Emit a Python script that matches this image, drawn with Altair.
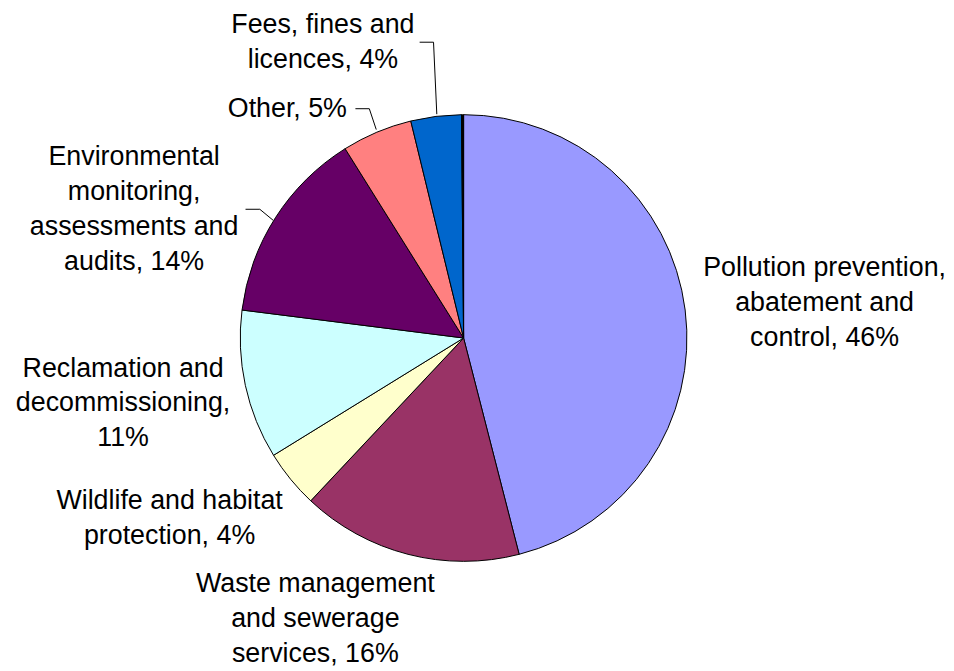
import altair as alt
import pandas as pd

# ---- data ----
categories = [
    "Pollution prevention, abatement and control",
    "Waste management and sewerage services",
    "Wildlife and habitat protection",
    "Reclamation and decommissioning",
    "Environmental monitoring, assessments and audits",
    "Other",
    "Fees, fines and licences",
    "Unlabelled",
]
values = [46.0, 16.0, 4.2, 10.8, 14.1, 5.1, 3.65, 0.15]
labels = [
    "Pollution prevention,\nabatement and\ncontrol, 46%",
    "Waste management\nand sewerage\nservices, 16%",
    "Wildlife and habitat\nprotection, 4%",
    "Reclamation and\ndecommissioning,\n11%",
    "Environmental\nmonitoring,\nassessments and\naudits, 14%",
    "Other, 5%",
    "Fees, fines and\nlicences, 4%",
    "",
]
colors = ["#9999FF", "#993366", "#FFFFCC", "#CCFFFF", "#660066", "#FF8080", "#0066CC", "#000000"]

df = pd.DataFrame({
    "idx": list(range(len(categories))),
    "category": categories,
    "value": values,
    "label": labels,
})

# ---- styling / layout ----
CX, CY, R = 459, 330, 225
FONT = "Liberation Sans"
FS = 27
LH = 35
# (radius, dx, dy) per labelled slice
label_place = [
    (361, 5.5, -25),
    (311, -72, -53),
    (345, -29, -53.5),
    (349, -2, -43),
    (350, -37, 6.5),
    (282, -68, 29),
    (313, -103, -4.5),
]
# leader line segments (x, y, x2, y2)
leaders = [
    (414.7, 32, 428.7, 32), (428.7, 32, 432, 104.5),
    (350, 99, 364, 99), (364, 99, 371, 120),
    (239.3, 200.3, 253.7, 200.3), (253.7, 200.3, 267, 211.3),
]

base = alt.Chart(df)

pie = base.mark_arc(outerRadius=R, stroke="black", strokeWidth=1).encode(
    theta=alt.Theta("value:Q", stack=True),
    order=alt.Order("idx:Q"),
    color=alt.Color("category:N", scale=alt.Scale(domain=categories, range=colors), legend=None),
    x=alt.value(CX),
    y=alt.value(CY),
)

mid_base = base.transform_joinaggregate(total="sum(value)").transform_window(
    cum="sum(value)", sort=[alt.SortField("idx")], frame=[None, 0]
).transform_calculate(mid="(datum.cum - datum.value/2) / datum.total * 2 * PI")

layers = [pie]
for i, (r, dx, dy) in enumerate(label_place):
    layers.append(
        mid_base.transform_filter(alt.datum.idx == i).mark_text(
            radius=r, dx=dx, dy=dy, font=FONT, fontSize=FS, lineBreak="\n",
            lineHeight=LH, align="center", baseline="middle", color="black",
        ).encode(
            theta=alt.Theta("mid:Q", scale=None),
            text="label:N",
            x=alt.value(CX),
            y=alt.value(CY),
        )
    )

one = pd.DataFrame({"a": [0]})
for (x1, y1, x2, y2) in leaders:
    layers.append(
        alt.Chart(one).mark_rule(color="black", strokeWidth=1).encode(
            x=alt.value(x1), y=alt.value(y1), x2=alt.value(x2), y2=alt.value(y2)
        )
    )

chart = alt.layer(*layers).properties(width=930, height=650, padding=0).configure_view(stroke=None)

chart.save("out.html", embed_options={"renderer": "svg", "actions": False})
